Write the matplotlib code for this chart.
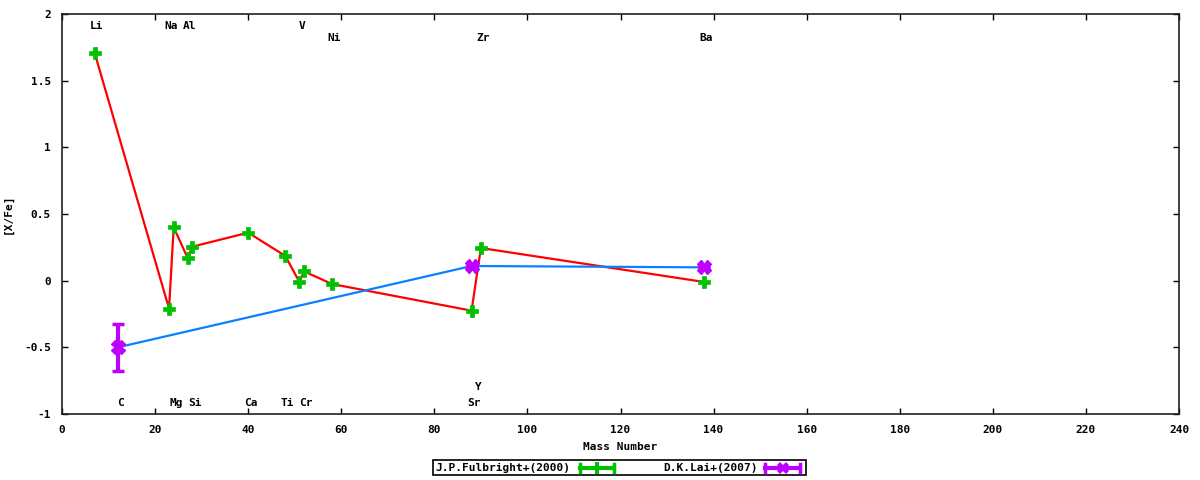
import matplotlib
matplotlib.use("Agg")
import matplotlib.pyplot as plt
from matplotlib.lines import Line2D
from matplotlib.patches import Rectangle

# ---- data ----
ful_mass = [7, 23, 24, 27, 28, 40, 48, 51, 52, 58, 88, 90, 138]
ful_val = [1.71, -0.21, 0.40, 0.17, 0.255, 0.36, 0.185, -0.01, 0.07, -0.025, -0.225, 0.245, -0.01]

lai_mass = [12, 88, 138]
lai_val = [-0.50, 0.11, 0.10]
lai_err = [0.175, 0.0, 0.0]

top_labels = ["Li", "Na", "Al", "V", "Ni", "Zr", "Ba"]
top_mass = [7, 23, 27, 51, 58, 90, 138]
top_y = [1.91, 1.91, 1.91, 1.91, 1.82, 1.82, 1.82]

bot_labels = ["C", "Mg", "Si", "Ca", "Ti", "Cr", "Y", "Sr"]
bot_mass = [12, 24, 28, 40, 48, 52, 89, 88]
bot_y = [-0.92, -0.92, -0.92, -0.92, -0.92, -0.92, -0.80, -0.92]

xticks = list(range(0, 241, 20))
yticks = [-1, -0.5, 0, 0.5, 1, 1.5, 2]
ytick_labels = ["-1", "-0.5", "0", "0.5", "1", "1.5", "2"]

legend_labels = ["J.P.Fulbright+(2000)", "D.K.Lai+(2007)"]

# ---- style ----
FONT = dict(family="DejaVu Sans Mono", weight="bold", size=8)
GREEN = "#00c000"
MAGENTA = "#c000ff"
RED = "#ff0000"
BLUE = "#0a80ff"

fig = plt.figure(figsize=(12, 4.8), dpi=100)
ax = fig.add_axes([62 / 1200, 66 / 480, (1179 - 62) / 1200, (414 - 14) / 480])

ax.plot(ful_mass, ful_val, color=RED, lw=1.6, zorder=2)
ax.plot(lai_mass, lai_val, color=BLUE, lw=1.6, zorder=2)

ax.errorbar(ful_mass, ful_val, yerr=[0] * len(ful_mass), fmt="P", color=GREEN,
            ms=9, mec=GREEN, mew=0.5, elinewidth=0, zorder=3)
ax.errorbar(lai_mass, lai_val, yerr=lai_err, fmt="X", color=MAGENTA, ms=10,
            mec=MAGENTA, elinewidth=3, capsize=4, capthick=2.5, zorder=3)

for lab, m, y in zip(top_labels + bot_labels, top_mass + bot_mass, top_y + bot_y):
    ax.text(m + 0.5, y, lab, ha="center", va="center", **FONT)

ax.set_xlim(0, 240)
ax.set_ylim(-1, 2)
ax.set_xticks(xticks)
ax.set_xticklabels([str(t) for t in xticks], **FONT)
ax.set_yticks(yticks)
ax.set_yticklabels(ytick_labels, **FONT)
ax.tick_params(direction="in", length=4, width=1, top=True, right=True, pad=8, colors="black")
for s in ax.spines.values():
    s.set_linewidth(1.2)
    s.set_color("#202020")
ax.set_xlabel("Mass Number", **FONT)
ax.set_ylabel("[X/Fe]", **FONT)
ax.xaxis.set_label_coords(0.5, -0.07)
ax.yaxis.set_label_coords(-0.044, 0.5)

# ---- legend (gnuplot-style key below the plot) ----
fig.patches.append(Rectangle((433 / 1200, (480 - 475) / 480), (806 - 433) / 1200, 15 / 480,
                             transform=fig.transFigure, fill=False, edgecolor="black", lw=1.2))
ky = (480 - 467.5) / 480
entries = [(legend_labels[0], 435, 580, 614, GREEN, "P"),
           (legend_labels[1], 758, 765, 800, MAGENTA, "X")]
for i, (lab, tx, x0, x1, col, mk) in enumerate(entries):
    if i == 0:
        fig.text(tx / 1200, ky, lab, ha="left", va="center", **FONT)
    else:
        fig.text(tx / 1200, ky, lab, ha="right", va="center", **FONT)
    fig.lines.append(Line2D([x0 / 1200, x1 / 1200], [ky, ky], color=col, lw=3,
                            transform=fig.transFigure))
    for xc in (x0, x1):
        fig.lines.append(Line2D([xc / 1200, xc / 1200], [ky - 4 / 480, ky + 4 / 480], color=col,
                                lw=2.5, transform=fig.transFigure))
    fig.lines.append(Line2D([(x0 + x1) / 2400], [ky], marker=mk, ms=9, mew=0, color=col,
                            transform=fig.transFigure))

fig.savefig("out.png", dpi=100)
